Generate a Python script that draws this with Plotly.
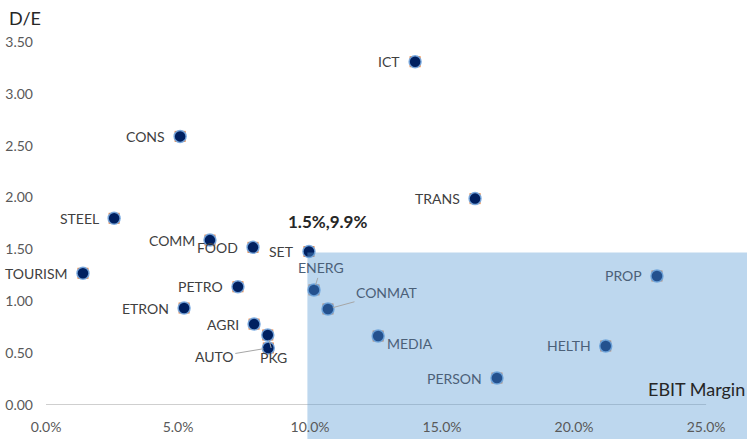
import plotly.graph_objects as go

# ---- data ----
sectors = ["ICT", "CONS", "TRANS", "STEEL", "COMM", "FOOD", "SET", "TOURISM",
           "PETRO", "ENERG", "ETRON", "CONMAT", "AGRI", "PKG", "AUTO", "MEDIA",
           "PROP", "HELTH", "PERSON"]
ebit_margin = [13.98, 5.08, 16.25, 2.58, 6.21, 7.84, 9.96, 1.40,
               7.27, 10.15, 5.23, 10.68, 7.88, 8.40, 8.42, 12.58,
               23.14, 21.20, 17.08]
de_ratio = [3.31, 2.59, 1.99, 1.80, 1.59, 1.52, 1.48, 1.27,
            1.14, 1.11, 0.935, 0.926, 0.78, 0.675, 0.55, 0.665,
            1.244, 0.569, 0.26]
x_ticks = [0, 5, 10, 15, 20, 25]
y_ticks = [0, 0.5, 1.0, 1.5, 2.0, 2.5, 3.0, 3.5]
benchmark_x = 9.9     # SET EBIT margin
benchmark_y = 1.47    # SET D/E
benchmark_text = "1.5%,9.9%"

# ---- label placement (pixel offsets: text-centre relative to point) ----
leader = {"ENERG": (7, -22), "CONMAT": (59, -16), "AUTO": (-54, 9), "PKG": (6, 23)}
right_below = {"MEDIA": (7, -7)}

NAVY = "#002060"
ORANGE = "#ED7D31"
OVERLAY = "rgba(91,155,213,0.40)"
LABEL = "#404040"
LABEL_IN = "#4B6078"
FONT = "Lato, 'Liberation Sans', sans-serif"

fig = go.Figure()
fig.add_trace(go.Scatter(
    x=ebit_margin, y=de_ratio, mode="markers",
    marker=dict(symbol="square", size=11, color=ORANGE),
    cliponaxis=False, hoverinfo="skip", showlegend=False))
fig.add_trace(go.Scatter(
    x=ebit_margin, y=de_ratio, mode="markers", text=sectors,
    marker=dict(symbol="circle", size=12, color=NAVY,
                line=dict(color="rgba(120,170,225,0.9)", width=1.5)),
    cliponaxis=False, showlegend=False))

# benchmark quadrant (above markers, below labels)
fig.add_shape(type="rect", xref="x", yref="y", x0=benchmark_x, x1=40,
              y0=0, y1=benchmark_y, fillcolor=OVERLAY, line_width=0, layer="above")
fig.add_shape(type="rect", xref="x", yref="paper", x0=benchmark_x, x1=40,
              y0=-0.3, y1=0, fillcolor=OVERLAY, line_width=0, layer="below")
# horizontal axis line up to 25%
fig.add_shape(type="line", xref="x", yref="y", x0=0, x1=x_ticks[-1], y0=0, y1=0,
              line=dict(color="#BFBFBF", width=1.5), layer="below")

for name, xv, yv in zip(sectors, ebit_margin, de_ratio):
    inside = xv >= benchmark_x and yv <= benchmark_y
    col = LABEL_IN if inside else LABEL
    if name in leader:
        dx, dy = leader[name]
        fig.add_annotation(x=xv, y=yv, text=name, showarrow=True, ax=dx, ay=dy,
                           arrowhead=0, arrowwidth=1, arrowcolor="#A6A6A6",
                           standoff=5, font=dict(size=14, color=col, family=FONT))
    elif name in right_below:
        dx, dy = right_below[name]
        fig.add_annotation(x=xv, y=yv, text=name, showarrow=False, xanchor="left",
                           xshift=dx, yshift=dy, font=dict(size=14, color=col, family=FONT))
    else:
        fig.add_annotation(x=xv, y=yv, text=name, showarrow=False, xanchor="right",
                           xshift=-13, font=dict(size=14, color=col, family=FONT))

fig.add_annotation(x=benchmark_x, y=benchmark_y, text="<b>" + benchmark_text + "</b>",
                   showarrow=False, xshift=20, yshift=31,
                   font=dict(size=17, color="#262626", family=FONT))
fig.add_annotation(xref="paper", yref="paper", x=0, y=1, text="D/E", showarrow=False,
                   xanchor="right", yanchor="bottom", xshift=-3, yshift=11,
                   font=dict(size=18, color="#262626", family=FONT))
fig.add_annotation(xref="paper", yref="paper", x=1, y=0, text="EBIT Margin", showarrow=False,
                   xanchor="right", yanchor="bottom", xshift=0, yshift=3,
                   font=dict(size=18, color="#262626", family=FONT))

fig.update_xaxes(range=[0, 26.55], tickvals=x_ticks,
                 ticktext=[f"{v:.1f}%" for v in x_ticks],
                 showgrid=False, zeroline=False, showline=False, ticks="",
                 ticklabelstandoff=12,
                 tickfont=dict(size=14, color="#595959", family=FONT))
fig.update_yaxes(range=[0, 3.5], tickvals=y_ticks,
                 ticktext=[f"{v:.2f}" for v in y_ticks],
                 showgrid=False, zeroline=False, showline=False, ticks="",
                 ticklabelstandoff=12,
                 tickfont=dict(size=14, color="#595959", family=FONT))
fig.update_layout(width=747, height=439, margin=dict(l=46, r=0, t=42, b=34),
                  plot_bgcolor="white", paper_bgcolor="white",
                  font=dict(family=FONT), hovermode="closest")
fig.write_html("out.html", config={"displayModeBar": False},
               post_script="document.body.style.margin='0';")
